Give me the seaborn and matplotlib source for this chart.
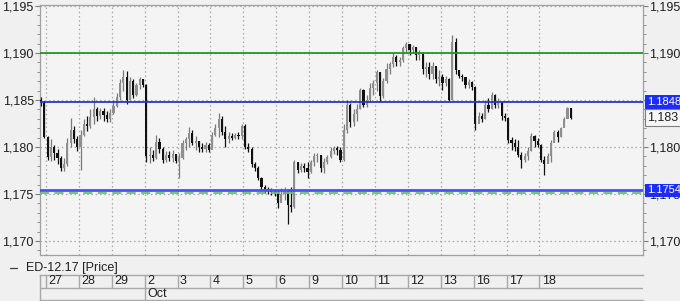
import numpy as np
import pandas as pd
import matplotlib
matplotlib.use("Agg")
import matplotlib.pyplot as plt
import matplotlib.transforms as mtransforms
from matplotlib.lines import Line2D
from matplotlib.ticker import MultipleLocator, FixedLocator, FuncFormatter
import seaborn as sns

# ---------------- data (prices in pips above 1.1700) ----------------
day_labels = ["27", "28", "29", "2", "3", "4", "5", "6", "9", "10",
              "11", "12", "13", "16", "17", "18"]
month_label = "Oct"
month_start_day = 3
series_name = "ED-12.17 [Price]"

first_open = 150
close_pips = [148, 111, 89, 100, 94, 88, 78, 82, 104, 118,
              108, 100, 113, 125, 122, 132, 140, 133, 138, 134,
              130, 136, 144, 153, 168, 175, 150, 170, 155, 166,
              172, 166, 90, 92, 88, 105, 98, 86, 92, 88,
              93, 85, 88, 104, 108, 115, 104, 106, 100, 98,
              102, 97, 113, 120, 130, 116, 108, 112, 110, 113,
              112, 122, 100, 98, 82, 78, 67, 57, 55, 53,
              52, 51, 40, 50, 54, 38, 36, 84, 76, 80,
              78, 73, 84, 90, 91, 78, 84, 89, 96, 99,
              97, 86, 118, 145, 127, 135, 140, 161, 145, 150,
              163, 168, 180, 154, 170, 183, 188, 196, 190, 193,
              205, 210, 203, 206, 198, 200, 183, 185, 178, 186,
              172, 175, 168, 172, 150, 212, 182, 176, 174, 166,
              169, 164, 124, 133, 130, 145, 140, 155, 145, 148,
              133, 131, 107, 104, 100, 92, 86, 90, 96, 112,
              106, 102, 86, 82, 90, 104, 116, 111, 120, 130,
              142, 131]
high_pips = [153, 149, 112, 108, 102, 98, 90, 88, 110, 131,
             122, 112, 118, 130, 133, 140, 153, 143, 142, 141,
             138, 140, 150, 158, 172, 182, 181, 174, 172, 168,
             174, 172, 167, 100, 97, 113, 110, 100, 96, 96,
             97, 93, 94, 107, 111, 121, 118, 112, 106, 104,
             105, 104, 116, 125, 136, 133, 122, 116, 115, 115,
             116, 125, 124, 104, 100, 84, 80, 68, 60, 57,
             56, 55, 54, 56, 57, 55, 57, 86, 84, 83,
             83, 84, 86, 94, 94, 91, 88, 92, 100, 101,
             101, 100, 125, 150, 147, 140, 146, 163, 162, 155,
             168, 171, 182, 180, 173, 189, 190, 200, 198, 196,
             208, 212, 210, 209, 206, 203, 198, 190, 190, 190,
             185, 182, 178, 176, 173, 219, 216, 182, 178, 174,
             172, 170, 165, 137, 136, 150, 152, 159, 156, 152,
             148, 136, 132, 111, 108, 107, 95, 94, 100, 115,
             113, 110, 103, 90, 94, 107, 118, 118, 121, 132,
             143, 142]
low_pips = [144, 110, 86, 85, 86, 82, 75, 74, 80, 100,
            104, 96, 76, 112, 117, 120, 124, 128, 130, 128,
            127, 127, 135, 143, 150, 160, 146, 150, 152, 154,
            162, 164, 84, 83, 85, 87, 94, 83, 84, 85,
            84, 83, 67, 87, 97, 100, 102, 97, 95, 95,
            95, 95, 100, 112, 111, 113, 100, 104, 107, 108,
            108, 108, 98, 95, 79, 75, 65, 54, 51, 50,
            49, 48, 35, 44, 44, 18, 31, 35, 72, 73,
            73, 67, 72, 80, 84, 73, 72, 82, 88, 93,
            92, 84, 85, 115, 121, 122, 128, 140, 143, 143,
            148, 155, 160, 148, 152, 168, 178, 185, 186, 186,
            190, 200, 198, 200, 193, 193, 178, 175, 172, 172,
            168, 165, 161, 165, 149, 150, 178, 173, 170, 163,
            163, 161, 118, 128, 127, 130, 137, 140, 142, 142,
            129, 128, 104, 97, 96, 89, 78, 84, 86, 96,
            100, 100, 84, 70, 83, 84, 105, 105, 111, 122,
            132, 130]

level_resistance = 1.1900
level_upper = 1.1848
level_lower = 1.1754
level_support = 1.1751
upper_label = "1.1848"
lower_label = "1.1754"
last_label = "1,183"

# ---------------- build table ----------------
n = len(close_pips)
assert len(high_pips) == n and len(low_pips) == n
base = 1.17
c = base + np.array(close_pips) / 10000.0
h = base + np.array(high_pips) / 10000.0
l = base + np.array(low_pips) / 10000.0
o = np.concatenate([[base + first_open / 10000.0], c[:-1]])
df = pd.DataFrame({"x": -0.15 + 0.1 * np.arange(n), "open": o, "high": h,
                   "low": l, "close": c})
df["up"] = df["close"] >= df["open"]

# ---------------- style ----------------
sns.set_style("white")
plt.rcParams["font.family"] = ["Liberation Sans", "DejaVu Sans"]
plt.rcParams["font.size"] = 9

W, H = 680, 301
fig = plt.figure(figsize=(W / 100, H / 100), dpi=100)
fig.patch.set_facecolor("#f0f0f0")

def rect(x0, y0, x1, y1):
    return [x0 / W, 1 - y1 / H, (x1 - x0) / W, (y1 - y0) / H]

ax = fig.add_axes(rect(40, 5, 643, 255))
ax.set_facecolor("#f4f4f4")
xlim = (-0.182, 18.146)
ax.set_xlim(*xlim)
ax.set_ylim(1.16851, 1.19511)

# grid
ax.xaxis.set_major_locator(FixedLocator(np.arange(len(day_labels))))
ax.tick_params(axis="x", length=0, labelbottom=False)
ax.yaxis.set_major_locator(MultipleLocator(0.005))
ax.yaxis.set_minor_locator(MultipleLocator(0.001))
ax.yaxis.set_major_formatter(FuncFormatter(lambda v, p: f"{v:.3f}".replace(".", ",")))
ax.grid(True, which="major", linestyle=(0, (1.2, 2.2)), color="#a8a8a8", linewidth=0.9)
ax.tick_params(axis="y", which="major", direction="out", length=3.5, width=0.8,
               color="#808080", pad=1, labelsize=9, labelcolor="#202020",
               left=True, right=True, labelleft=True, labelright=True)
ax.tick_params(axis="y", which="minor", direction="out", length=2, width=0.7,
               color="#909090", left=True, right=True)
for s in ax.spines.values():
    s.set_color("#a0a0a0")
    s.set_linewidth(0.9)

# candles
colors = np.where(df["up"], "#8f8f8f", "#111111")
wick_colors = np.where(df["up"], "#7a7a7a", "#111111")
ax.vlines(df["x"], df["low"], df["high"], colors=wick_colors, linewidth=0.9, zorder=3)
body_bottom = np.minimum(df["open"], df["close"])
body_h = np.maximum(np.abs(df["close"] - df["open"]), 0.00004)
ax.bar(df["x"], body_h, bottom=body_bottom, width=0.065, color=colors,
       linewidth=0, zorder=4)

# levels
ax.axhline(level_resistance, color="#1f9a1f", linewidth=1.3, zorder=5)
ax.axhline(level_upper, color="#2a32d8", linewidth=1.3, zorder=5)
ax.axhline(level_support, color="#6cc06c", linewidth=1.3, linestyle=(0, (5, 3)), zorder=5)
ax.axhline(level_lower, color="#4a50ff", linewidth=2.0, zorder=5)

trans = mtransforms.blended_transform_factory(ax.transAxes, ax.transData)
xr = 1 + 4 / 603
for val, lab in [(level_upper, upper_label), (level_lower, lower_label)]:
    ax.text(xr, val, lab, transform=trans, color="white", fontsize=8,
            va="center", ha="left", clip_on=False, zorder=10,
            bbox=dict(boxstyle="square,pad=0.15", facecolor="#1b2cff", edgecolor="none"))
ax.text(xr, df["close"].iloc[-1], last_label, transform=trans, color="#202020",
        fontsize=9, va="center", ha="left", clip_on=False, zorder=10,
        bbox=dict(boxstyle="square,pad=0.2", facecolor="#f6f6f6", edgecolor="#808080",
                  linewidth=0.8))

# legend line
fig.add_artist(Line2D([10 / W, 17 / W], [1 - 268 / H, 1 - 268 / H],
                      color="#404040", linewidth=0.9))
fig.text(26 / W, 1 - 268 / H, series_name, fontsize=9, va="center", ha="left",
         color="#202020")

# date axis
ax2 = fig.add_axes(rect(40, 275, 643, 300))
ax2.set_facecolor("#f0f0f0")
ax2.set_xlim(*xlim)
ax2.set_ylim(0, 1)
ax2.set_xticks([])
ax2.set_yticks([])
for k, s in ax2.spines.items():
    s.set_color("#a8a8a8")
    s.set_linewidth(1.0)
ax2.spines["right"].set_visible(False)
ax2.axhline(0.5, color="#a8a8a8", linewidth=1.0)
for d, lab in enumerate(day_labels):
    ax2.plot([d, d], [0.5, 1], color="#a8a8a8", linewidth=1.0)
    ax2.text(d + 0.07, 0.74, lab, fontsize=9, va="center", ha="left", color="#202020")
ax2.plot([month_start_day, month_start_day], [0, 0.5], color="#a8a8a8", linewidth=1.0)
ax2.text(month_start_day + 0.07, 0.24, month_label, fontsize=9, va="center",
         ha="left", color="#202020")

fig.savefig("out.png", dpi=100, facecolor=fig.get_facecolor())
